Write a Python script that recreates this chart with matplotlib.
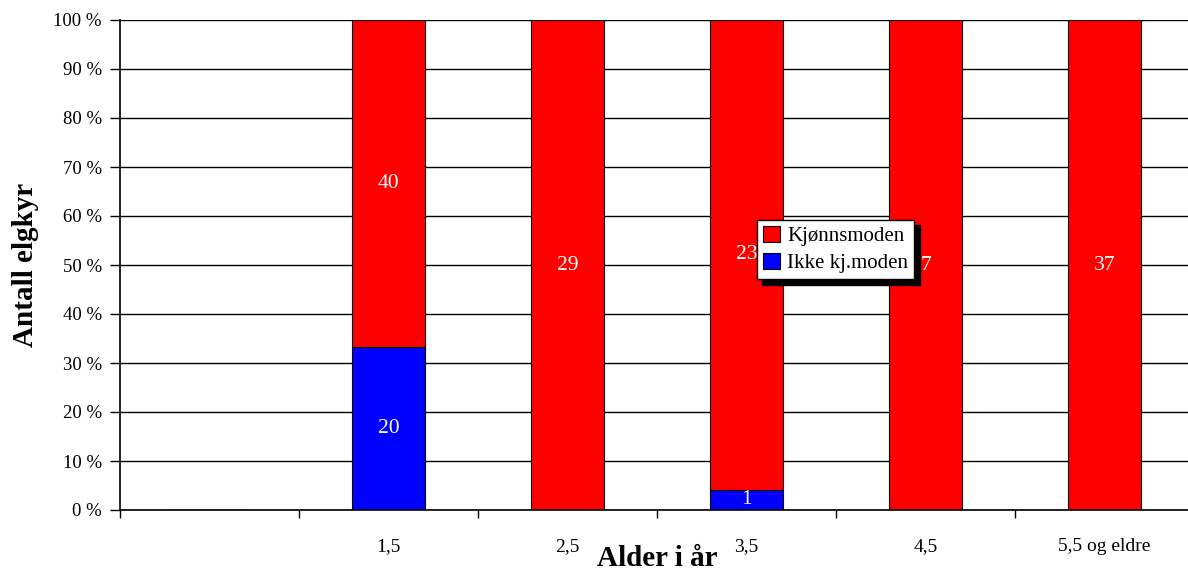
import numpy as np
import matplotlib.pyplot as plt

plt.rcParams['font.family'] = ['Liberation Serif', 'DejaVu Serif']

# age classes (first class has no label and no animals)
alder = ["", "1,5", "2,5", "3,5", "4,5", "5,5 og eldre"]
kjonnsmoden = [0, 40, 29, 23, 7, 37]
ikke_moden = [0, 20, 0, 1, 0, 0]
yticks = [0, 10, 20, 30, 40, 50, 60, 70, 80, 90, 100]

km = np.array(kjonnsmoden, dtype=float)
ik = np.array(ikke_moden, dtype=float)
tot = km + ik
tot[tot == 0] = 1
pct_ik = ik / tot * 100
pct_km = km / tot * 100

fig = plt.figure(figsize=(11.88, 5.72), dpi=100)
ax = fig.add_axes([120/1188, 62/572, 1074/1188, 490/572])

x = np.arange(len(alder))
w = 0.41
ax.set_axisbelow(True)
ax.yaxis.grid(True, color='black', linewidth=1.0)
b1 = ax.bar(x, pct_ik, w, color='#0000ff', edgecolor='black', linewidth=0.8,
            label='Ikke kj.moden')
b2 = ax.bar(x, pct_km, w, bottom=pct_ik, color='#ff0000', edgecolor='black',
            linewidth=0.8, label='Kjønnsmoden')

for i in range(len(alder)):
    if ik[i] > 0:
        ax.text(x[i], pct_ik[i] / 2, str(ikke_moden[i]), color='white',
                ha='center', va='center', fontsize=15.5)
    if km[i] > 0:
        ax.text(x[i], pct_ik[i] + pct_km[i] / 2, str(kjonnsmoden[i]),
                color='white', ha='center', va='center', fontsize=15.5)

ax.set_xlim(-0.5, len(alder) - 0.5)
ax.set_ylim(0, 100)
ax.set_yticks(yticks)
ax.set_yticklabels([f"{v} %" for v in yticks], fontsize=13.5)
ax.set_xticks(x)
ax.set_xticklabels(alder, fontsize=14)
ax.set_xticks(np.arange(len(alder)) - 0.5, minor=True)
ax.tick_params(axis='x', which='major', length=0, pad=20)
ax.tick_params(axis='x', which='minor', length=6, width=1, color='black')
ax.tick_params(axis='y', length=7, width=1, color='black', pad=6)

for s in ['top', 'right']:
    ax.spines[s].set_visible(False)
ax.spines['left'].set_linewidth(1.2)
ax.spines['bottom'].set_linewidth(1.2)

ax.set_ylabel('Antall elgkyr', fontsize=21, fontweight='bold')
ax.yaxis.set_label_coords(-0.075, 0.5)
ax.set_xlabel('Alder i år', fontsize=21, fontweight='bold')
ax.xaxis.set_label_coords(0.5, -0.071)

leg = ax.legend(handles=[b2, b1], loc='upper left', bbox_to_anchor=(0.593, 0.592),
                borderaxespad=0, fancybox=False, edgecolor='black', framealpha=1,
                shadow={'color': 'black', 'alpha': 1, 'ox': 4, 'oy': -4},
                fontsize=15, handlelength=0.8, handleheight=0.8,
                handletextpad=0.35, borderpad=0.3, labelspacing=0.3)
leg.get_frame().set_linewidth(1.0)

fig.savefig('out.png', dpi=100)
